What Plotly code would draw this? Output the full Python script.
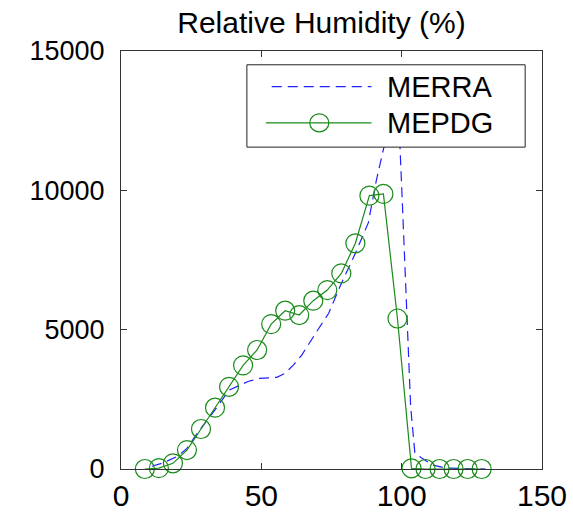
import plotly.graph_objects as go

# MERRA (dashed blue)
merra_x = [11, 15, 20, 23.5, 28, 33.5, 38.5, 42.4, 45.5, 49.5, 55.5, 58.4, 61.4, 64.4, 67.3, 70.5, 74, 78.5, 83.5, 88.1, 91, 93.7, 96.5, 99.4, 100.3, 101.8, 103.2, 104.7, 107, 111, 116, 130]
merra_y = [100, 220, 450, 740, 1400, 2120, 2830, 3014, 3150, 3250, 3290, 3430, 3730, 4090, 4570, 5050, 5590, 6660, 7740, 8830, 10370, 11560, 13000, 11560, 9410, 5820, 2235, 574, 400, 143, 30, 0]

# MEPDG (green, open circles)
mepdg_x = [8.5, 13.5, 18.5, 23.5, 28.5, 33.5, 38.5, 43.5, 48.5, 53.5, 58.5, 63.5, 68.5, 73.5, 78.5, 83.5, 88.5, 93.5, 98.5, 103.5, 108.5, 113.5, 118.5, 123.5, 128.5]
mepdg_y = [0, 30, 204, 680, 1435, 2200, 2950, 3720, 4270, 5200, 5680, 5525, 6040, 6420, 7020, 8100, 9810, 9870, 5400, 25, 0, 0, 0, 0, 0]

x_ticks = [0, 50, 100, 150]
y_ticks = [0, 5000, 10000, 15000]
series_names = ["MERRA", "MEPDG"]
title_text = "Relative Humidity (%)"

BLUE = "#2020ff"
GREEN = "#1a8a1a"
FONT = "Liberation Sans, Arial, sans-serif"

fig = go.Figure()
fig.add_trace(go.Scatter(x=merra_x, y=merra_y, mode="lines", name=series_names[0],
                         line=dict(color=BLUE, width=1.2, dash="10px,6px"), showlegend=False))
fig.add_trace(go.Scatter(x=mepdg_x, y=mepdg_y, mode="lines+markers", name=series_names[1],
                         line=dict(color=GREEN, width=1.2),
                         marker=dict(symbol="circle-open", size=19, color=GREEN, line=dict(width=1.2, color=GREEN)),
                         showlegend=False, cliponaxis=False))

axis_common = dict(showgrid=False, zeroline=False, showline=True, linecolor="#333333", linewidth=1,
                   mirror="ticks", ticks="inside", ticklen=6, tickcolor="#333333", automargin=False,
                   tickfont=dict(family=FONT, color="black"))

fig.update_xaxes(range=[0, 150], tickvals=x_ticks, ticktext=[str(v) for v in x_ticks], **axis_common)
fig.update_xaxes(tickfont_size=30)
fig.update_yaxes(range=[0, 15000], tickvals=y_ticks, ticktext=[str(v) for v in y_ticks],
                 ticklabelstandoff=10, **axis_common)
fig.update_yaxes(tickfont_size=27)

# manual legend
x0, x1, y0, y1 = 0.299, 0.960, 0.770, 0.967
shapes = [
    dict(type="rect", xref="paper", yref="paper", x0=x0, x1=x1, y0=y0, y1=y1,
         line=dict(color="#222222", width=1), fillcolor="white", layer="above"),
    dict(type="line", xref="paper", yref="paper", x0=0.358, x1=0.595, y0=0.915, y1=0.915,
         line=dict(color=BLUE, width=1.2, dash="10px,6px"), layer="above"),
    dict(type="line", xref="paper", yref="paper", x0=0.344, x1=0.595, y0=0.828, y1=0.828,
         line=dict(color=GREEN, width=1.2), layer="above"),
    dict(type="circle", xref="paper", yref="paper", x0=0.471 - 0.0226, x1=0.471 + 0.0226,
         y0=0.828 - 0.0215, y1=0.828 + 0.0215, line=dict(color=GREEN, width=1.2),
         fillcolor="rgba(0,0,0,0)", layer="above"),
]
annotations = [
    dict(xref="paper", yref="paper", x=0.627, y=0.915, text=series_names[0], showarrow=False,
         xanchor="left", yanchor="middle", font=dict(family=FONT, size=29, color="black")),
    dict(xref="paper", yref="paper", x=0.627, y=0.828, text=series_names[1], showarrow=False,
         xanchor="left", yanchor="middle", font=dict(family=FONT, size=29, color="black")),
]

fig.update_layout(
    width=573, height=512,
    margin=dict(l=121, r=31, t=51, b=43),
    paper_bgcolor="white", plot_bgcolor="white",
    title=dict(text=title_text, x=0.561, xanchor="center", y=0.957, yanchor="middle",
               font=dict(family=FONT, size=30, color="black")),
    shapes=shapes, annotations=annotations,
    showlegend=False,
)

fig.write_html("out.html")
